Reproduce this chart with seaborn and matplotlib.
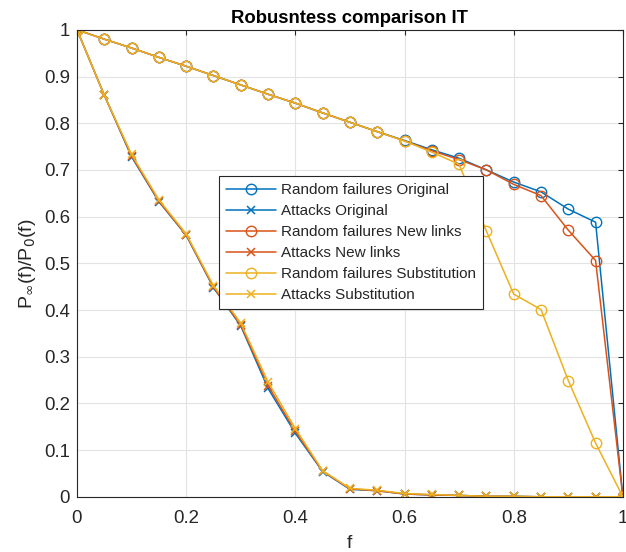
import numpy as np
import pandas as pd
import matplotlib
matplotlib.use("Agg")
import matplotlib.pyplot as plt
import seaborn as sns

f = [0, 0.05, 0.1, 0.15, 0.2, 0.25, 0.3, 0.35, 0.4, 0.45, 0.5, 0.55, 0.6, 0.65, 0.7, 0.75, 0.8, 0.85, 0.9, 0.95, 1.0]

rf_original = [1.0, 0.98, 0.961, 0.941, 0.922, 0.902, 0.882, 0.862, 0.843, 0.822, 0.802, 0.782, 0.763, 0.743, 0.725, 0.700, 0.674, 0.653, 0.616, 0.588, 0.0]
at_original = [1.0, 0.86, 0.728, 0.632, 0.560, 0.448, 0.366, 0.232, 0.136, 0.054, 0.016, 0.013, 0.006, 0.004, 0.003, 0.001, 0.001, 0.0, 0.0, 0.0, 0.0]
rf_newlinks = [1.0, 0.98, 0.961, 0.941, 0.922, 0.902, 0.882, 0.862, 0.843, 0.822, 0.802, 0.782, 0.762, 0.741, 0.722, 0.700, 0.669, 0.645, 0.571, 0.506, 0.0]
at_newlinks = [1.0, 0.86, 0.730, 0.633, 0.561, 0.449, 0.368, 0.238, 0.140, 0.055, 0.017, 0.013, 0.006, 0.004, 0.003, 0.001, 0.001, 0.0, 0.0, 0.0, 0.0]
rf_subst = [1.0, 0.98, 0.961, 0.941, 0.922, 0.902, 0.882, 0.862, 0.843, 0.822, 0.802, 0.782, 0.762, 0.738, 0.712, 0.569, 0.434, 0.401, 0.249, 0.115, 0.0]
at_subst = [1.0, 0.86, 0.733, 0.636, 0.563, 0.452, 0.372, 0.246, 0.146, 0.056, 0.018, 0.014, 0.007, 0.005, 0.003, 0.001, 0.001, 0.0, 0.0, 0.0, 0.0]

labels = ["Random failures Original", "Attacks Original",
          "Random failures New links", "Attacks New links",
          "Random failures Substitution", "Attacks Substitution"]
series = [rf_original, at_original, rf_newlinks, at_newlinks, rf_subst, at_subst]
colors = ["#0072BD", "#0072BD", "#D95319", "#D95319", "#EDB120", "#EDB120"]
markers = ["o", "x", "o", "x", "o", "x"]

sns.set_theme(style="white")
plt.rcParams['font.family'] = ['Liberation Sans', 'DejaVu Sans']

fig = plt.figure(figsize=(6.26, 5.52), dpi=100)
ax = fig.add_axes([0.123, 0.1, 0.872, 0.846])

for lab, ys, c, m in zip(labels, series, colors, markers):
    df = pd.DataFrame({"f": f, "P": ys})
    if m == "o":
        sns.lineplot(data=df, x="f", y="P", ax=ax, color=c, marker="o", markersize=7.5,
                     markerfacecolor="none", markeredgecolor=c, markeredgewidth=1.0,
                     linewidth=1.1, label=lab)
    else:
        sns.lineplot(data=df, x="f", y="P", ax=ax, color=c, marker="x", markersize=6,
                     markeredgecolor=c, markeredgewidth=1.1,
                     linewidth=1.1, label=lab)

ax.set_xlim(0, 1)
ax.set_ylim(0, 1)
ax.set_xticks(np.arange(0, 1.01, 0.2))
ax.set_xticklabels(["0", "0.2", "0.4", "0.6", "0.8", "1"])
ax.set_yticks(np.arange(0, 1.01, 0.1))
ax.set_yticklabels(["0", "0.1", "0.2", "0.3", "0.4", "0.5", "0.6", "0.7", "0.8", "0.9", "1"])
ax.grid(True, color="#e3e3e3", linewidth=0.8)
ax.set_axisbelow(True)
for s in ax.spines.values():
    s.set_color("#262626")
    s.set_linewidth(0.8)
ax.tick_params(direction="in", length=3.5, width=0.8, color="#262626",
               top=True, right=True, labelsize=13.4, labelcolor="#262626")
ax.tick_params(axis="x", pad=9.5)
ax.tick_params(axis="y", pad=5)
ax.set_xlabel("f", fontsize=14, color="#262626", labelpad=6)
ax.set_ylabel(r"P$_{\infty}$(f)/P$_0$(f)", fontsize=14, color="#262626", labelpad=4)
ax.set_title("Robusntess comparison IT", fontsize=13.3, fontweight="bold", color="black", pad=5)

leg = ax.legend(loc="upper left", bbox_to_anchor=(0.26, 0.687), fontsize=11,
                frameon=True, fancybox=False, framealpha=1, edgecolor="#262626",
                handlelength=3.3, borderpad=0.45, labelspacing=0.46, handletextpad=0.33,
                borderaxespad=0)
leg.get_frame().set_linewidth(0.8)

fig.savefig("out.png", dpi=100)
